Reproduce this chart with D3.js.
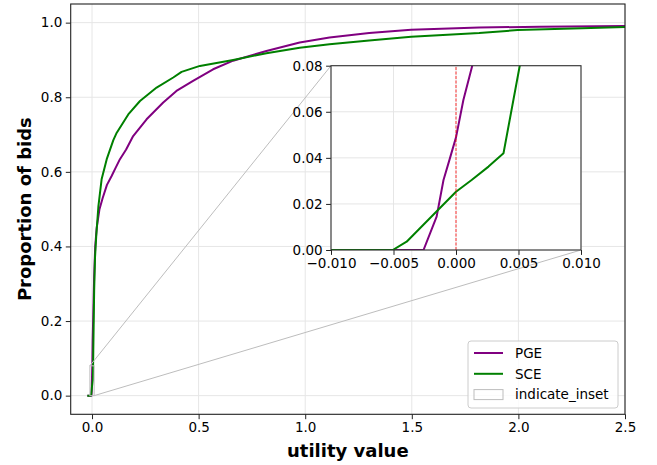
<!DOCTYPE html>
<html>
<head>
<meta charset="utf-8">
<script src="https://cdn.jsdelivr.net/npm/d3@7"></script>
<style>
    body { margin: 0; background: #fff; }
    svg text { font-family: "DejaVu Sans", sans-serif; fill: #000; }
</style>
</head>
<body>
<div class="svg-container"></div>
<script>
// CDF of bid utility values
let pge_x = [-0.022, -0.0026, -0.00155, -0.001, -0.00053, 0, 0.00059, 0.0013, 0.003, 0.006, 0.010, 0.015, 0.022, 0.035, 0.050, 0.070, 0.092, 0.110, 0.131, 0.160, 0.193, 0.256, 0.334, 0.396, 0.474, 0.568, 0.662, 0.818, 0.974, 1.114, 1.30, 1.497, 1.816, 2.1, 2.495, 2.6];
let pge_y = [0, 0, 0.0145, 0.0304, 0.039, 0.0489, 0.0651, 0.08, 0.15, 0.22, 0.32, 0.40, 0.45, 0.50, 0.53, 0.565, 0.589, 0.61, 0.634, 0.66, 0.696, 0.741, 0.786, 0.817, 0.844, 0.875, 0.898, 0.924, 0.947, 0.960, 0.972, 0.981, 0.987, 0.989, 0.991, 0.992];

let sce_x = [-0.022, -0.00506, -0.00395, 0, 0.00125, 0.0026, 0.0038, 0.0051, 0.006, 0.008, 0.010, 0.014, 0.020, 0.030, 0.045, 0.069, 0.100, 0.116, 0.170, 0.225, 0.303, 0.381, 0.420, 0.506, 0.662, 0.818, 0.974, 1.114, 1.30, 1.497, 1.816, 1.996, 2.3, 2.6];
let sce_y = [0, 0, 0.0036, 0.0253, 0.0304, 0.0362, 0.042, 0.08, 0.12, 0.20, 0.28, 0.37, 0.43, 0.508, 0.58, 0.634, 0.685, 0.705, 0.754, 0.790, 0.826, 0.853, 0.868, 0.884, 0.900, 0.918, 0.933, 0.942, 0.952, 0.962, 0.972, 0.980, 0.985, 0.990];

let series_names = ["PGE", "SCE"];
let series_colors = ["#800080", "#008000"];

let main_x_ticks = [0, 0.5, 1.0, 1.5, 2.0, 2.5];
let main_y_ticks = [0, 0.2, 0.4, 0.6, 0.8, 1.0];
let inset_x_ticks = [-0.01, -0.005, 0, 0.005, 0.01];
let inset_y_ticks = [0, 0.02, 0.04, 0.06, 0.08];

let width = 657;
let height = 465;
let tick_font = "13.5px";

let series = [
    { name: series_names[0], color: series_colors[0], pts: pge_x.map((v, i) => [v, pge_y[i]]) },
    { name: series_names[1], color: series_colors[1], pts: sce_x.map((v, i) => [v, sce_y[i]]) }
];

let svg = d3.select(".svg-container")
    .append("svg")
    .attr("width", width)
    .attr("height", height);

/*************
 * MAIN AXES *
 *************/

let x = d3.scaleLinear().domain([-0.1, 2.5]).range([70.7, 625]);
let y = d3.scaleLinear().domain([-0.05, 1.05]).range([414.3, 4]);

svg.append("defs").append("clipPath").attr("id", "clip-main")
    .append("rect")
    .attr("x", x.range()[0]).attr("y", y.range()[1])
    .attr("width", x.range()[1] - x.range()[0])
    .attr("height", y.range()[0] - y.range()[1]);

// grid
let grid = svg.append("g");
grid.selectAll("line.gx").data(main_x_ticks).enter().append("line")
    .attr("x1", d => x(d)).attr("x2", d => x(d))
    .attr("y1", y.range()[0]).attr("y2", y.range()[1])
    .attr("stroke", "#e6e6e6").attr("stroke-width", 1);
grid.selectAll("line.gy").data(main_y_ticks).enter().append("line")
    .attr("y1", d => y(d)).attr("y2", d => y(d))
    .attr("x1", x.range()[0]).attr("x2", x.range()[1])
    .attr("stroke", "#e6e6e6").attr("stroke-width", 1);

let line = d3.line().x(d => x(d[0])).y(d => y(d[1]));

svg.append("g").attr("clip-path", "url(#clip-main)")
    .selectAll("path")
    .data(series)
    .enter()
    .append("path")
    .attr("d", d => line(d.pts))
    .attr("fill", "none")
    .attr("stroke", d => d.color)
    .attr("stroke-width", 2)
    .attr("stroke-linejoin", "round");

// inset indicator rectangle and connectors
let indicate_color = "#bdbdbd";
svg.append("rect")
    .attr("x", x(-0.01)).attr("y", y(0.08))
    .attr("width", x(0.01) - x(-0.01))
    .attr("height", y(0) - y(0.08))
    .attr("fill", "none").attr("stroke", indicate_color).attr("stroke-width", 1);

// main axes
let xAxis = svg.append("g")
    .attr("transform", "translate(0," + y.range()[0] + ")")
    .call(d3.axisBottom(x).tickValues(main_x_ticks).tickFormat(d3.format(".1f")).tickSizeOuter(0).tickSize(4.9).tickPadding(3.5));
let yAxis = svg.append("g")
    .attr("transform", "translate(" + x.range()[0] + ",0)")
    .call(d3.axisLeft(y).tickValues(main_y_ticks).tickFormat(d3.format(".1f")).tickSizeOuter(0).tickSize(4.9).tickPadding(3.5));

[xAxis, yAxis].forEach(a => {
    a.select(".domain").remove();
    a.selectAll("line").attr("stroke", "#222").attr("stroke-width", 1);
    a.selectAll("text").style("font-size", tick_font).attr("fill", "#111");
});

// spines
svg.append("rect")
    .attr("x", x.range()[0]).attr("y", y.range()[1])
    .attr("width", x.range()[1] - x.range()[0])
    .attr("height", y.range()[0] - y.range()[1])
    .attr("fill", "none").attr("stroke", "#222").attr("stroke-width", 1.1);

// axis labels
svg.append("text")
    .attr("x", (x.range()[0] + x.range()[1]) / 2)
    .attr("y", 457)
    .attr("text-anchor", "middle")
    .style("font-size", "18px").style("font-weight", "bold")
    .text("utility value");

svg.append("text")
    .attr("transform", "translate(31," + (y.range()[0] + y.range()[1]) / 2 + ") rotate(-90)")
    .attr("text-anchor", "middle")
    .style("font-size", "18px").style("font-weight", "bold")
    .text("Proportion of bids");

/**************
 * INSET AXES *
 **************/

let ix = d3.scaleLinear().domain([-0.01, 0.01]).range([331, 581]);
let iy = d3.scaleLinear().domain([0, 0.08]).range([250, 65.7]);

// connectors from indicator rect to inset corners
svg.append("line")
    .attr("x1", x(-0.01)).attr("y1", y(0.08))
    .attr("x2", ix.range()[0]).attr("y2", iy.range()[1])
    .attr("stroke", indicate_color).attr("stroke-width", 1);
svg.append("line")
    .attr("x1", x(0.01)).attr("y1", y(0))
    .attr("x2", ix.range()[1]).attr("y2", iy.range()[0])
    .attr("stroke", indicate_color).attr("stroke-width", 1);

svg.select("defs").append("clipPath").attr("id", "clip-inset")
    .append("rect")
    .attr("x", ix.range()[0]).attr("y", iy.range()[1])
    .attr("width", ix.range()[1] - ix.range()[0])
    .attr("height", iy.range()[0] - iy.range()[1]);

let inset = svg.append("g");

inset.append("rect")
    .attr("x", ix.range()[0]).attr("y", iy.range()[1])
    .attr("width", ix.range()[1] - ix.range()[0])
    .attr("height", iy.range()[0] - iy.range()[1])
    .attr("fill", "#fff");

inset.selectAll("line.gx").data(inset_x_ticks).enter().append("line")
    .attr("x1", d => ix(d)).attr("x2", d => ix(d))
    .attr("y1", iy.range()[0]).attr("y2", iy.range()[1])
    .attr("stroke", "#e6e6e6").attr("stroke-width", 1);
inset.selectAll("line.gy").data(inset_y_ticks).enter().append("line")
    .attr("y1", d => iy(d)).attr("y2", d => iy(d))
    .attr("x1", ix.range()[0]).attr("x2", ix.range()[1])
    .attr("stroke", "#e6e6e6").attr("stroke-width", 1);

let iline = d3.line().x(d => ix(d[0])).y(d => iy(d[1]));

inset.append("g").attr("clip-path", "url(#clip-inset)")
    .selectAll("path")
    .data(series)
    .enter()
    .append("path")
    .attr("d", d => iline(d.pts))
    .attr("fill", "none")
    .attr("stroke", d => d.color)
    .attr("stroke-width", 2)
    .attr("stroke-linejoin", "round");

// zero marker
inset.append("line")
    .attr("x1", ix(0)).attr("x2", ix(0))
    .attr("y1", iy(0)).attr("y2", iy(0.08))
    .attr("stroke", "#ff0000").attr("stroke-width", 0.8)
    .attr("stroke-dasharray", "3,1.5");

let ixAxis = inset.append("g")
    .attr("transform", "translate(0," + iy.range()[0] + ")")
    .call(d3.axisBottom(ix).tickValues(inset_x_ticks).tickFormat(d3.format(".3f")).tickSizeOuter(0).tickSize(4.9).tickPadding(3.5));
let iyAxis = inset.append("g")
    .attr("transform", "translate(" + ix.range()[0] + ",0)")
    .call(d3.axisLeft(iy).tickValues(inset_y_ticks).tickFormat(d3.format(".2f")).tickSizeOuter(0).tickSize(4.9).tickPadding(3.5));

[ixAxis, iyAxis].forEach(a => {
    a.select(".domain").remove();
    a.selectAll("line").attr("stroke", "#222").attr("stroke-width", 1);
    a.selectAll("text").style("font-size", tick_font).attr("fill", "#111");
});

inset.append("rect")
    .attr("x", ix.range()[0]).attr("y", iy.range()[1])
    .attr("width", ix.range()[1] - ix.range()[0])
    .attr("height", iy.range()[0] - iy.range()[1])
    .attr("fill", "none").attr("stroke", "#333").attr("stroke-width", 1.1);

/**********
 * LEGEND *
 **********/

let legend = svg.append("g").attr("transform", "translate(468,341)");

legend.append("rect")
    .attr("width", 150).attr("height", 67)
    .attr("rx", 3)
    .attr("fill", "#fff").attr("fill-opacity", 0.8)
    .attr("stroke", "#cccccc").attr("stroke-width", 1);

let entries = series.map(s => ({ name: s.name, color: s.color, kind: "line" }))
    .concat([{ name: "indicate_inset", color: indicate_color, kind: "patch" }]);

let entry = legend.selectAll("g.entry")
    .data(entries)
    .enter()
    .append("g")
    .attr("transform", (d, i) => "translate(0," + (12 + i * 20.8) + ")");

entry.filter(d => d.kind === "line").append("line")
    .attr("x1", 6).attr("x2", 35).attr("y1", 0).attr("y2", 0)
    .attr("stroke", d => d.color).attr("stroke-width", 2);

entry.filter(d => d.kind === "patch").append("rect")
    .attr("x", 6).attr("y", -5).attr("width", 29).attr("height", 10)
    .attr("fill", "none").attr("stroke", d => d.color).attr("stroke-width", 1);

entry.append("text")
    .attr("x", 47).attr("y", 0).attr("dy", "0.35em")
    .style("font-size", tick_font)
    .text(d => d.name);
</script>
</body>
</html>
